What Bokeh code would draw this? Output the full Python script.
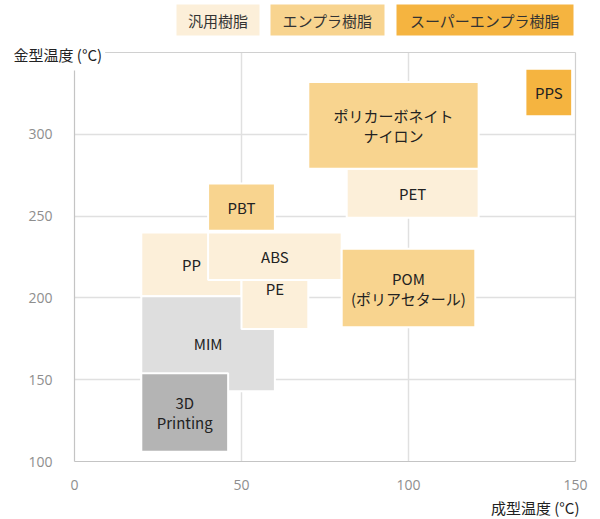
from bokeh.plotting import figure
from bokeh.layouts import column
from bokeh.models import ColumnDataSource, Range1d, FixedTicker, LinearAxis, Title
from bokeh.core.properties import value
from bokeh.embed import file_html
from bokeh.resources import INLINE

# Material windows: forming temperature (x) vs. die temperature (y), in °C
materials = ["PP", "MIM", "3D\nPrinting", "PE", "ABS", "PBT",
             "POM\n(ポリアセタール)", "PET", "ポリカーボネイト\nナイロン", "PPS"]
kinds = ["general", "mim", "print3d", "general", "general", "engineering",
         "engineering", "general", "engineering", "super"]
forming_lo = [20, 20, 20, 50, 40, 40, 80, 81.5, 70, 135]
forming_hi = [50, 60, 46, 70, 80, 60, 120, 121, 121, 149]
die_lo = [201, 143, 106, 181, 211, 241, 182, 249, 279, 311]
die_hi = [240, 201, 154, 230, 240, 270, 230, 279, 332, 340]

x_ticks = [0, 50, 100, 150]
y_ticks = [100, 150, 200, 250, 300]

legend_labels = ["汎用樹脂", "エンプラ樹脂", "スーパーエンプラ樹脂"]
palette = {
    "general": "#FCEFD9",
    "engineering": "#F8D48F",
    "super": "#F5B440",
    "mim": "#DEDEDE",
    "print3d": "#B4B4B4",
}
legend_colors = [palette["general"], palette["engineering"], palette["super"]]

JP = "Noto Sans CJK JP"
W = 600
KEY_H = 40
MAIN_H = 519 - KEY_H
LEFT, RIGHT = 74, 25

# ---- category key strip (its frame lines up with the chart frame; units are pixels) ----
key_left = [176, 270, 396]
key_right = [259, 384, 573]
key_top, key_bottom = 4, 35
key = figure(width=W, height=KEY_H, output_backend="svg", toolbar_location=None,
             x_range=Range1d(LEFT, W - RIGHT), y_range=Range1d(KEY_H, 0),
             x_axis_type=None, y_axis_type=None,
             min_border_left=LEFT, min_border_right=RIGHT,
             min_border_top=0, min_border_bottom=0)
key.outline_line_color = None
key.grid.visible = False
key_src = ColumnDataSource(dict(
    left=key_left, right=key_right,
    top=[key_top] * 3, bottom=[key_bottom] * 3,
    cx=[(a + b) / 2 for a, b in zip(key_left, key_right)],
    cy=[(key_top + key_bottom) / 2] * 3,
    label=legend_labels, color=legend_colors,
))
key.quad(left="left", right="right", top="top", bottom="bottom", source=key_src,
         fill_color="color", line_color=None)
key.text(x="cx", y="cy", text="label", source=key_src, text_align="center",
         text_baseline="middle", text_font=value(JP), text_font_size="15px",
         text_color="#333333")

# ---- main chart ----
src = ColumnDataSource(dict(
    name=materials,
    left=forming_lo, right=forming_hi, bottom=die_lo, top=die_hi,
    cx=[(a + b) / 2 for a, b in zip(forming_lo, forming_hi)],
    cy=[(a + b) / 2 for a, b in zip(die_lo, die_hi)],
    color=[palette[k] for k in kinds],
))

p = figure(width=W, height=MAIN_H, output_backend="svg", toolbar_location=None,
           x_range=Range1d(0, 150), y_range=Range1d(100, 350),
           min_border_left=LEFT, min_border_right=RIGHT,
           min_border_top=52 - KEY_H, min_border_bottom=58)
p.outline_line_color = None

for ax, ticks in ((p.xaxis[0], x_ticks), (p.yaxis[0], y_ticks)):
    ax.ticker = FixedTicker(ticks=ticks)
    ax.major_tick_line_color = None
    ax.minor_tick_line_color = None
    ax.axis_line_color = "#C4C4C4"
    ax.axis_line_width = 1.2
    ax.major_label_text_color = "#8E8E8E"
    ax.major_label_text_font = "Open Sans"
    ax.major_label_text_font_size = "14px"
p.xaxis.major_label_standoff = 12
p.yaxis.major_label_standoff = 16

# thin frame lines on the top and right edges
for side in ("above", "right"):
    a = LinearAxis(ticker=FixedTicker(ticks=[]), major_tick_line_color=None,
                   minor_tick_line_color=None, major_label_text_font_size="0px",
                   major_label_standoff=0, major_tick_out=0, major_tick_in=0,
                   axis_line_color="#D0D0D0", axis_line_width=1.2)
    p.add_layout(a, side)

p.xgrid.ticker = FixedTicker(ticks=x_ticks)
p.ygrid.ticker = FixedTicker(ticks=y_ticks)
p.grid.grid_line_color = "#E0E0E0"
p.grid.grid_line_width = 1.5

p.quad(left="left", right="right", bottom="bottom", top="top", source=src,
       fill_color="color", line_color="white", line_width=2)
p.text(x="cx", y="cy", text="name", source=src, text_align="center",
       text_baseline="middle", text_font=value(JP), text_font_size="15px",
       text_color="#222222", text_line_height=0.95)

# y-axis title, top-left, on a white patch over the frame corner
p.title.text = "金型温度 (°C)"
p.title.align = "left"
p.title.offset = -64
p.title.text_font = JP
p.title.text_font_size = "15px"
p.title.text_font_style = "normal"
p.title.text_color = "#222222"
p.title.background_fill_color = "white"
try:
    p.title.standoff = -36
except ValueError:
    p.title.standoff = 0
try:
    p.title.padding = (3, 6)
except (ValueError, AttributeError):
    pass

# x-axis title, bottom-right
p.add_layout(Title(text="成型温度 (°C)", align="right", offset=-4, text_font=JP,
                   text_font_size="15px", text_font_style="normal",
                   text_color="#222222", standoff=4), "below")

layout = column(key, p, spacing=0)
open("out.html", "w").write(file_html(layout, INLINE))
